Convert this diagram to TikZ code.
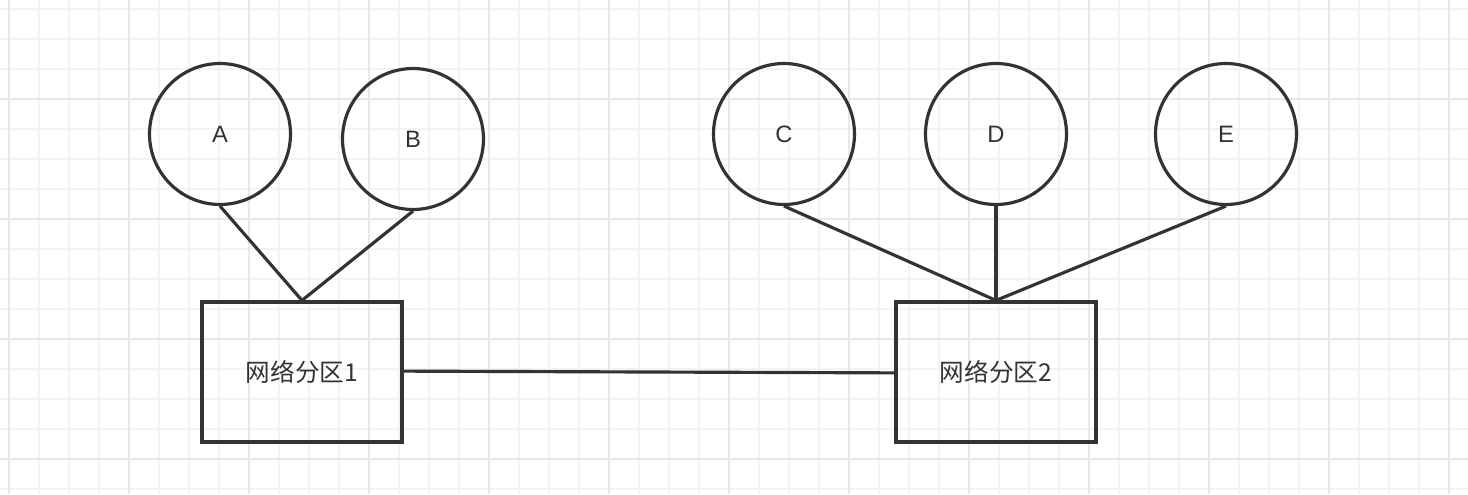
\documentclass[tikz,border=0pt]{standalone}
\usepackage{fontspec}
\setmainfont{Liberation Sans}
\newfontfamily\cjk{Noto Sans CJK SC}
\definecolor{ink}{HTML}{333333}
\definecolor{minorgrid}{HTML}{F3F3F3}
\definecolor{majorgrid}{HTML}{E8E8E8}
\begin{document}
\begin{tikzpicture}[x=0.02cm,y=-0.02cm,
  peer/.style={draw=ink,line width=1.8pt,circle,minimum size=2.82cm,inner sep=0pt,font=\fontsize{13.5}{16}\selectfont,text=ink},
  zone/.style={draw=ink,line width=1.8pt,minimum width=4cm,minimum height=2.8cm,inner sep=0pt,font=\cjk\fontsize{14}{16}\selectfont,text=ink},
  link/.style={draw=ink,line width=1.8pt}]
\fill[white] (0,0) rectangle (1468,494);
\useasboundingbox (0,0) rectangle (1468,494);
% grid
\foreach \x in {9,39,...,1460}{\draw[minorgrid,line width=0.6pt] (\x,0) -- (\x,494);}
\foreach \y in {9,39,...,490}{\draw[minorgrid,line width=0.6pt] (0,\y) -- (1468,\y);}
\foreach \x in {9,129,...,1460}{\draw[majorgrid,line width=0.6pt] (\x,0) -- (\x,494);}
\foreach \y in {99,219,...,490}{\draw[majorgrid,line width=0.6pt] (0,\y) -- (1468,\y);}
% partitions
\node[zone] (p1) at (302,372) {网络分区1};
\node[zone] (p2) at (996,372) {网络分区2};
% nodes
\node[peer] (a) at (220,134) {A};
\node[peer] (b) at (413,139) {B};
\node[peer] (c) at (784,134) {C};
\node[peer] (d) at (996,134) {D};
\node[peer] (e) at (1226,134) {E};
\draw[link] (a.south) -- (p1.north);
\draw[link] (b.south) -- (p1.north);
\draw[link] (c.south) -- (p2.north);
\draw[link] (d.south) -- (p2.north);
\draw[link] (e.south) -- (p2.north);
\draw[link] ([yshift=0.5]p1.east) -- ([yshift=-0.5]p2.west);
\end{tikzpicture}
\end{document}
